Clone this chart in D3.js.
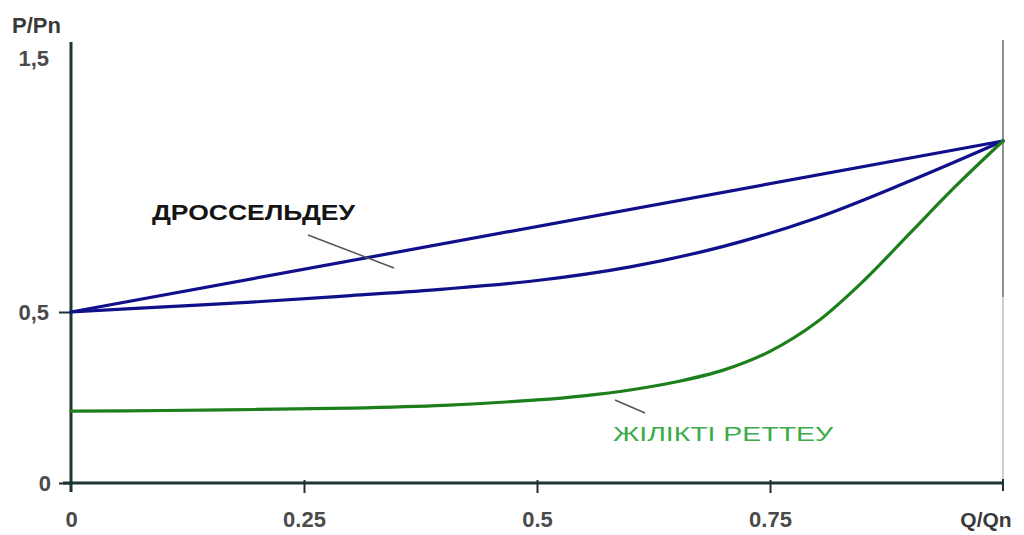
<!DOCTYPE html>
<html>
<head>
<meta charset="utf-8">
<script src="https://cdn.jsdelivr.net/npm/d3@7"></script>
<style>
  html, body { margin: 0; padding: 0; background: #ffffff; }
  svg { display: block; }
  text { font-family: "Liberation Sans", Arial, sans-serif; }
</style>
</head>
<body>
<svg id="chart" width="1024" height="535"></svg>
<script>
// Relative flow Q/Qn and relative power P/Pn
const xTicks = [0, 0.25, 0.5, 0.75];
const xTickLabels = ["0", "0.25", "0.5", "0.75"];
const yTicks = [0, 0.5, 1.5];
const yTickLabels = ["0", "0,5", "1,5"];

// Throttling control: straight line
const throttleLineQ = [0, 1];
const throttleLineP = [0.5, 1.0];

// Throttling control: curved characteristic
const throttleCurveQ = [0, 0.1, 0.2, 0.3, 0.4, 0.5, 0.6, 0.7, 0.8, 0.9, 1.0];
const throttleCurveP = [0.5, 0.515, 0.53, 0.548, 0.567, 0.592, 0.632, 0.692, 0.775, 0.883, 1.0];

// Frequency (speed) control
const speedQ = [0, 0.1, 0.2, 0.3, 0.4, 0.5, 0.55, 0.6, 0.65, 0.7, 0.75, 0.8, 0.85, 0.9, 0.95, 1.0];
const speedP = [0.21, 0.212, 0.215, 0.219, 0.227, 0.243, 0.255, 0.272, 0.296, 0.33, 0.385, 0.47, 0.59, 0.73, 0.87, 1.0];

const svg = d3.select("#chart");

const x = d3.scaleLinear().domain([0, 1]).range([71, 1003]);
// Value axis with a compressed upper section above 1
const y = d3.scaleLinear().domain([0, 0.5, 1, 1.5]).range([483, 312, 141, 58]);

const axisColor = "#1d3532";
const labelColor = "#4a4a4a";

// Right frame line
svg.append("line")
  .attr("x1", x(1)).attr("x2", x(1))
  .attr("y1", 40).attr("y2", 297)
  .attr("stroke", "#8f8f8f").attr("stroke-width", 2);
svg.append("line")
  .attr("x1", x(1)).attr("x2", x(1))
  .attr("y1", 297).attr("y2", y(0))
  .attr("stroke", "#cfcfcf").attr("stroke-width", 2);

// Y axis
const yAxis = d3.axisLeft(y)
  .tickValues(yTicks)
  .tickFormat((d, i) => yTickLabels[i])
  .tickSize(12)
  .tickPadding(10);
const gy = svg.append("g").attr("transform", `translate(${x(0)},0)`).call(yAxis);
gy.select(".domain").remove();
gy.selectAll(".tick line").attr("stroke", axisColor).attr("stroke-width", 2);
gy.selectAll(".tick").filter(d => d === 1.5).select("line").remove();
gy.selectAll(".tick text")
  .attr("fill", labelColor)
  .style("font-size", "22px")
  .style("font-weight", "bold");
gy.selectAll(".tick").filter(d => d === 0).select("text").attr("x", -20);

svg.append("line")
  .attr("x1", x(0)).attr("x2", x(0))
  .attr("y1", 42).attr("y2", 492)
  .attr("stroke", axisColor).attr("stroke-width", 3);

// X axis
const xAxis = d3.axisBottom(x)
  .tickValues(xTicks)
  .tickFormat((d, i) => xTickLabels[i])
  .tickSize(10)
  .tickPadding(18);
const gx = svg.append("g").attr("transform", `translate(0,${y(0)})`).call(xAxis);
gx.select(".domain").remove();
gx.selectAll(".tick line").attr("y1", -3).attr("stroke", axisColor).attr("stroke-width", 2);
gx.selectAll(".tick").filter(d => d === 0).select("line").remove();
gx.selectAll(".tick text")
  .attr("fill", labelColor)
  .style("font-size", "22px")
  .style("font-weight", "bold");

svg.append("line")
  .attr("x1", x(0) - 8).attr("x2", x(1) + 1)
  .attr("y1", y(0)).attr("y2", y(0))
  .attr("stroke", axisColor).attr("stroke-width", 3);
svg.append("line")
  .attr("x1", x(1)).attr("x2", x(1))
  .attr("y1", y(0) - 4).attr("y2", y(0) + 8)
  .attr("stroke", axisColor).attr("stroke-width", 2);

// Axis titles
svg.append("text")
  .attr("x", 12).attr("y", 33)
  .attr("fill", "#3a3a3a")
  .style("font-size", "22px").style("font-weight", "bold")
  .text("P/Pn");
svg.append("text")
  .attr("x", 986).attr("y", 527)
  .attr("text-anchor", "middle")
  .attr("fill", "#3a3a3a")
  .style("font-size", "21px").style("font-weight", "bold")
  .text("Q/Qn");

// Curves
const line = d3.line().x(d => x(d[0])).y(d => y(d[1])).curve(d3.curveCatmullRom.alpha(0.5));
const series = [
  { q: throttleLineQ, p: throttleLineP, color: "#10108a" },
  { q: throttleCurveQ, p: throttleCurveP, color: "#10108a" },
  { q: speedQ, p: speedP, color: "#1c7f1c" }
];
series.forEach(s => {
  svg.append("path")
    .datum(d3.zip(s.q, s.p))
    .attr("d", line)
    .attr("fill", "none")
    .attr("stroke", s.color)
    .attr("stroke-width", 3.2)
    .attr("stroke-linecap", "round");
});

// Leader lines and labels
svg.append("line")
  .attr("x1", 308).attr("y1", 235).attr("x2", 394).attr("y2", 268)
  .attr("stroke", "#555").attr("stroke-width", 1.5);
svg.append("text")
  .attr("x", 152).attr("y", 220)
  .attr("fill", "#151515")
  .style("font-size", "22px").style("font-weight", "bold")
  .attr("textLength", 203).attr("lengthAdjust", "spacingAndGlyphs")
  .text("ДРОССЕЛЬДЕУ");

svg.append("line")
  .attr("x1", 615).attr("y1", 400).attr("x2", 645).attr("y2", 413)
  .attr("stroke", "#555").attr("stroke-width", 1.5);
svg.append("text")
  .attr("x", 613).attr("y", 441)
  .attr("fill", "#3aab48")
  .style("font-size", "20px")
  .attr("textLength", 220).attr("lengthAdjust", "spacingAndGlyphs")
  .text("ЖІЛІКТІ РЕТТЕУ");
</script>
</body>
</html>
